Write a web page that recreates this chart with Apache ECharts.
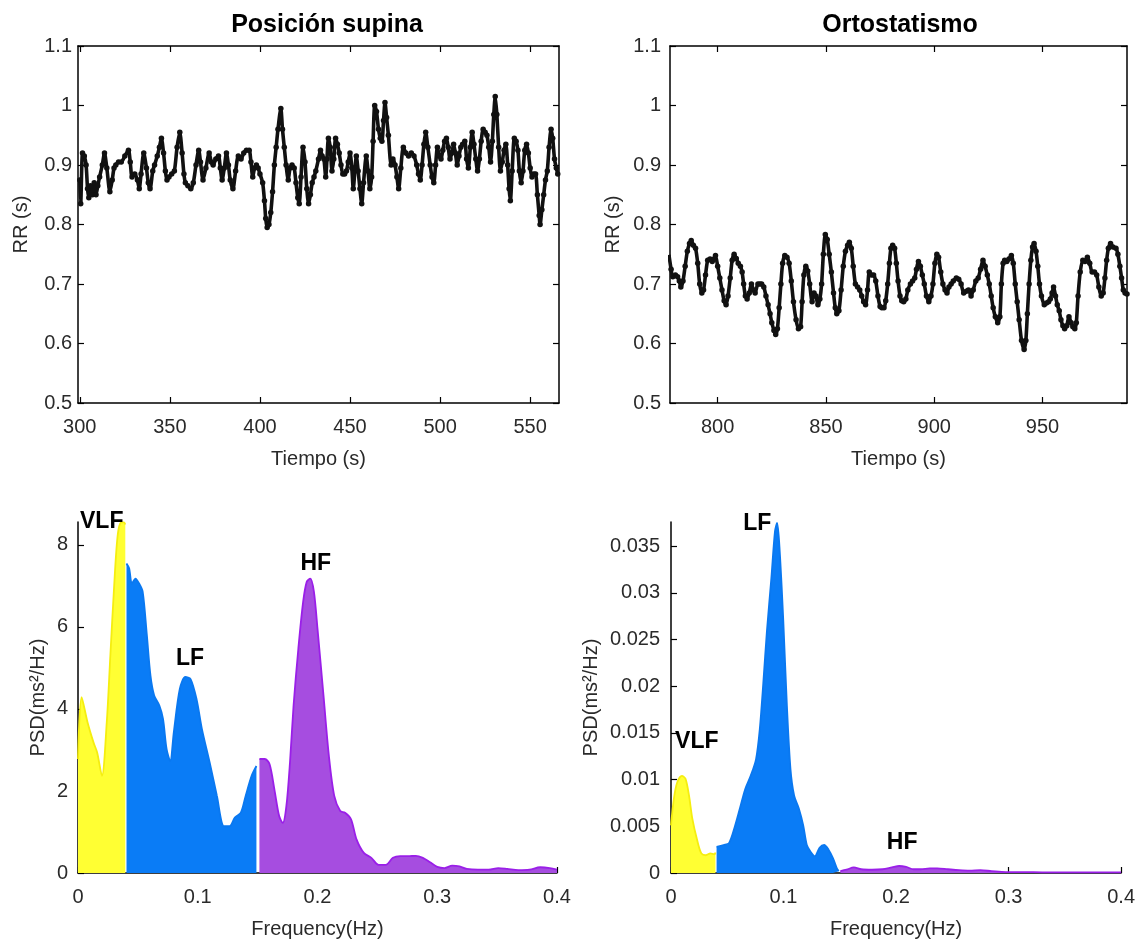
<!DOCTYPE html>
<html>
<head>
<meta charset="utf-8">
<script src="https://cdn.jsdelivr.net/npm/echarts@6/dist/echarts.min.js"></script>
<style>
  html, body { margin: 0; padding: 0; background: #ffffff; }
  #chart { width: 1138px; height: 940px; }
</style>
</head>
<body>
<div id="chart"></div>
<script>
// ---- RR tachogram, supine position (time in s, RR in s) ----
const supinaTime = [300.0,300.5,301.5,302.5,303.5,304.3,305.0,306,307,308,
  309,310,311,312.5,313.7,315,316.7,318,319,320,
  321.5,323,325,327,328,329,330.5,332,333,334,
  335.5,337,338,339,340.5,341.5,343,344.2,345.3,346.5,
  347.5,348.4,349.5,351,352.5,354,355.5,356.8,357.8,358.6,
  360,361.6,363,364.5,366,367,368.4,370,371.8,373,
  374,375.5,377,378,379,380.2,381.4,382.5,383.5,385,
  386.5,388,389.5,391,392.5,394,395,396,397,398,
  399,400,401.5,402.5,403.2,404,405,406,407,408,
  409,410,411.6,412.5,413.5,414.5,415.7,416.7,417.8,419,
  420,421,421.8,422.8,423.9,425,426,427,428,429,
  430,431,432.5,433.6,434.5,435.5,436.5,437.2,438,439,
  440,441,442,443,444,445,446,447,448,449,
  450,451,451.8,452.8,453.5,454.5,455.5,456.5,457.5,459,
  460,461,462,462.8,463.7,464.7,465.8,466.8,467.7,468.6,
  469.4,470.3,471.3,472.8,473.8,475,476,477,478.2,479.6,
  481,482.5,484,485.5,487,488,489,490,491,492,
  493.2,494.5,495.5,496.5,497.5,498.5,499.5,500.5,501.5,502.5,
  503.5,504.5,505.5,506.5,507.5,508.5,509.5,510.5,511.5,512.5,
  513.7,514.7,515.7,516.8,517.8,518.8,519.8,520.8,521.8,522.8,
  523.9,525,526,527,528,529,529.8,530.6,531.5,532.5,
  533.5,534.5,535.5,536.5,537.5,538.3,539,540,541.2,542.2,
  543.2,544,545,546,547,548,549,550,551,552,
  553,554,555,555.5,556.5,557.5,558.5,559.5,560.5,561.6,
  562.5,563.5,564.5,565.3];
const supinaRR = [0.875,0.835,0.92,0.915,0.90,0.86,0.845,0.865,0.85,0.87,
  0.85,0.865,0.88,0.90,0.92,0.895,0.855,0.875,0.895,0.90,
  0.905,0.905,0.915,0.925,0.905,0.88,0.885,0.875,0.86,0.885,
  0.92,0.895,0.87,0.86,0.89,0.90,0.915,0.93,0.945,0.92,
  0.89,0.875,0.88,0.885,0.89,0.93,0.955,0.92,0.885,0.87,
  0.865,0.86,0.87,0.90,0.925,0.905,0.875,0.895,0.92,0.905,
  0.90,0.91,0.915,0.895,0.875,0.895,0.92,0.90,0.875,0.86,
  0.89,0.915,0.91,0.92,0.925,0.925,0.905,0.88,0.895,0.90,
  0.895,0.885,0.87,0.84,0.81,0.795,0.80,0.82,0.855,0.90,
  0.93,0.96,0.995,0.96,0.93,0.90,0.875,0.895,0.90,0.895,
  0.87,0.845,0.835,0.88,0.93,0.905,0.86,0.835,0.85,0.87,
  0.88,0.89,0.91,0.925,0.915,0.91,0.88,0.91,0.945,0.93,
  0.89,0.91,0.945,0.935,0.92,0.90,0.885,0.885,0.89,0.905,
  0.92,0.895,0.86,0.895,0.915,0.89,0.86,0.835,0.87,0.915,
  0.89,0.86,0.88,0.94,1.0,0.99,0.96,0.945,0.94,0.975,
  1.005,0.98,0.95,0.90,0.91,0.90,0.88,0.86,0.895,0.93,
  0.92,0.915,0.92,0.915,0.90,0.885,0.875,0.90,0.935,0.955,
  0.93,0.90,0.88,0.87,0.90,0.93,0.915,0.91,0.925,0.94,
  0.945,0.93,0.91,0.92,0.935,0.92,0.90,0.915,0.93,0.935,
  0.94,0.91,0.895,0.93,0.955,0.935,0.91,0.89,0.91,0.94,
  0.96,0.955,0.95,0.93,0.905,0.94,0.985,1.015,0.985,0.93,
  0.89,0.905,0.925,0.935,0.90,0.86,0.84,0.89,0.945,0.94,
  0.925,0.89,0.87,0.89,0.925,0.935,0.92,0.895,0.88,0.885,
  0.885,0.85,0.815,0.80,0.825,0.85,0.875,0.89,0.93,0.96,
  0.945,0.91,0.895,0.885];

// ---- RR tachogram, standing (orthostatism) ----
const ortoTime = [777.5,778.5,779.3,780.5,781.5,782.3,783.0,784.0,785.0,786.0,
  787.0,787.8,788.8,789.8,790.8,791.7,792.7,793.5,794.4,795.4,
  796.5,797.5,798.3,799.0,800.0,801.0,802.0,803.0,803.9,804.8,
  805.8,806.7,807.6,808.6,809.5,810.5,811.3,812.0,812.8,813.6,
  814.6,815.6,816.5,817.3,818.6,819.5,820.3,821.3,822.3,823.3,
  824.2,825.0,826.0,826.8,827.6,828.4,829.2,830.0,831.0,832.0,
  833.0,834.0,835.0,836.2,837.3,838.3,839.0,839.8,840.7,841.6,
  842.5,843.6,844.5,845.4,846.3,847.2,848.0,848.8,849.7,850.6,
  851.5,852.5,853.5,854.3,855.0,856.0,857.0,858.0,859.0,860.0,
  860.8,861.7,862.6,863.6,864.6,865.6,866.5,867.4,868.3,869.2,
  870.0,871.0,872.0,873.0,874.0,875.0,875.8,876.8,877.6,878.5,
  879.3,880.0,880.8,881.7,882.5,883.3,884.2,885.0,885.9,886.9,
  887.8,889.0,890.0,891.0,891.8,892.7,893.6,894.5,895.4,896.4,
  897.5,898.5,899.4,900.3,901.2,902.0,903.0,904.0,905.0,905.9,
  906.8,907.8,908.8,910.2,911.3,912.4,913.6,914.8,915.8,917.0,
  918.0,919.2,920.3,921.4,922.5,923.5,924.5,925.4,926.3,927.2,
  928.2,929.3,930.3,931.0,931.8,932.5,933.5,934.5,935.6,936.5,
  937.4,938.3,939.2,940.3,941.5,942.3,943.0,943.8,944.6,945.4,
  946.1,947.0,947.8,948.6,949.5,950.8,951.8,952.8,953.6,954.4,
  955.1,956.0,956.8,957.7,958.5,959.4,960.2,961.2,962.2,963.2,
  964.0,964.9,965.6,966.4,967.4,968.6,969.6,970.7,971.8,972.9,
  974.0,975.0,976.0,977.1,978.0,978.8,979.6,980.4,981.4,982.5,
  983.9,984.8,985.7,986.5,987.3,988.1,989.0];
const ortoRR = [0.749,0.725,0.712,0.715,0.712,0.705,0.695,0.705,0.73,0.755,
  0.768,0.773,0.765,0.76,0.735,0.70,0.685,0.69,0.715,0.74,
  0.742,0.738,0.742,0.748,0.73,0.71,0.69,0.672,0.665,0.68,
  0.71,0.74,0.75,0.743,0.735,0.73,0.72,0.70,0.68,0.675,
  0.685,0.70,0.69,0.685,0.70,0.70,0.70,0.695,0.68,0.665,
  0.65,0.635,0.622,0.615,0.625,0.66,0.70,0.735,0.748,0.745,
  0.735,0.705,0.67,0.64,0.625,0.628,0.67,0.715,0.73,0.722,
  0.70,0.67,0.685,0.68,0.665,0.675,0.70,0.75,0.783,0.775,
  0.75,0.72,0.685,0.66,0.65,0.655,0.69,0.73,0.755,0.765,
  0.77,0.76,0.73,0.70,0.695,0.69,0.68,0.67,0.665,0.69,
  0.72,0.715,0.715,0.705,0.68,0.662,0.66,0.66,0.672,0.70,
  0.735,0.76,0.765,0.76,0.735,0.705,0.68,0.672,0.67,0.675,
  0.69,0.70,0.705,0.71,0.725,0.738,0.73,0.715,0.70,0.68,
  0.67,0.68,0.70,0.735,0.75,0.745,0.72,0.70,0.69,0.685,
  0.695,0.70,0.705,0.71,0.708,0.70,0.685,0.688,0.69,0.68,
  0.69,0.705,0.71,0.725,0.74,0.73,0.715,0.70,0.68,0.66,
  0.645,0.635,0.645,0.70,0.735,0.74,0.738,0.742,0.748,0.735,
  0.70,0.67,0.64,0.605,0.59,0.605,0.65,0.70,0.74,0.762,
  0.768,0.755,0.73,0.70,0.68,0.665,0.668,0.67,0.675,0.685,
  0.695,0.68,0.665,0.655,0.64,0.63,0.625,0.63,0.645,0.635,
  0.628,0.625,0.635,0.68,0.72,0.74,0.738,0.745,0.735,0.72,
  0.72,0.715,0.695,0.68,0.685,0.71,0.74,0.76,0.768,0.762,
  0.76,0.75,0.73,0.71,0.69,0.685,0.683];

// ---- Power spectral density, supine (Hz, ms^2/Hz) ----
const supVlfFreq = [0,0.003,0.008,0.013,0.016,0.02,0.024,0.027,0.03,0.033,0.036,0.0385,0.0395];
const supVlfPsd  = [2.78,4.29,3.67,3.18,2.94,2.37,3.67,5.3,6.9,8.2,8.55,8.55,8.5];
const supLfFreq  = [0.0405,0.0427,0.045,0.048,0.051,0.054,0.0575,0.0605,0.0636,0.068,
  0.071,0.074,0.077,0.080,0.085,0.0897,0.094,0.099,0.1035,0.11,
  0.116,0.122,0.1266,0.131,0.136,0.14,0.145,0.149];
const supLfPsd   = [7.55,7.43,7.06,7.18,7.06,6.86,5.8,4.82,4.33,4.08,
  3.76,3.02,2.73,3.43,4.49,4.78,4.73,4.24,3.51,2.69,
  1.88,1.14,1.14,1.35,1.47,1.88,2.37,2.61];
const supHfFreq  = [0.1515,0.156,0.160,0.164,0.168,0.171,0.174,0.177,0.180,0.184,
  0.188,0.191,0.194,0.197,0.2,0.205,0.2095,0.214,0.219,0.223,
  0.228,0.2326,0.2387,0.245,0.251,0.257,0.263,0.269,0.2756,0.282,
  0.288,0.294,0.300,0.306,0.3125,0.3186,0.3247,0.334,0.343,0.351,
  0.3585,0.3677,0.377,0.386,0.394,0.4];
const supHfPsd   = [2.78,2.78,2.65,2.04,1.39,1.22,1.63,2.69,4.08,5.47,
  6.61,7.1,7.18,6.86,5.96,4.33,2.86,1.88,1.51,1.47,
  1.31,0.82,0.49,0.37,0.2,0.2,0.37,0.41,0.41,0.42,
  0.37,0.26,0.15,0.12,0.18,0.16,0.1,0.08,0.08,0.12,
  0.1,0.07,0.08,0.14,0.12,0.08];

// ---- Power spectral density, standing ----
const ortoVlfFreq = [0,0.0026,0.0055,0.0097,0.0129,0.016,0.019,0.0235,0.027,0.031,0.035,0.0386,0.0395];
const ortoVlfPsd  = [0.0051,0.008,0.0097,0.0104,0.0101,0.0083,0.0058,0.0034,0.0021,0.0019,0.0021,0.002,0.0022];
const ortoLfFreq  = [0.0405,0.0467,0.0515,0.0563,0.0612,0.066,0.0708,0.0756,0.0789,0.082,
  0.0853,0.0892,0.0924,0.0943,0.0966,0.0998,0.103,0.1062,0.1094,0.1136,
  0.1175,0.1207,0.1239,0.1278,0.132,0.1361,0.14,0.1439,0.1474,0.149];
const ortoLfPsd   = [0.0028,0.003,0.0032,0.0048,0.0069,0.009,0.0104,0.0122,0.0154,0.0203,
  0.026,0.0316,0.0366,0.0375,0.0345,0.027,0.0179,0.0111,0.0083,0.0069,
  0.0051,0.003,0.0023,0.0018,0.0027,0.003,0.0025,0.0016,0.0005,0.0002];
const ortoHfFreq  = [0.1505,0.156,0.1625,0.169,0.1786,0.188,0.1963,0.2028,0.209,0.2156,
  0.222,0.230,0.2366,0.246,0.256,0.2655,0.275,0.285,0.2977,0.314,
  0.33,0.362,0.4];
const ortoHfPsd   = [0.0002,0.00035,0.0006,0.0004,0.00035,0.0004,0.0006,0.00075,0.00065,0.0004,
  0.0004,0.0005,0.0005,0.0004,0.0003,0.00025,0.0003,0.0002,0.0001,0.0001,
  0.00007,0.00007,0.00007];

// ---- Band names and where each name sits (data coordinates) ----
const bandNames = ['VLF', 'LF', 'HF'];
const supBandFreq = [0.0198, 0.0935, 0.1986];
const supBandPsd  = [8.58, 5.22, 7.54];
const ortoBandFreq = [0.0229, 0.0766, 0.2054];
const ortoBandPsd  = [0.0141, 0.0374, 0.00329];

// ---- Tick values ----
const supinaTicks = [300, 350, 400, 450, 500, 550];
const ortoTicks = [800, 850, 900, 950];
const rrTicks = [0.5, 0.6, 0.7, 0.8, 0.9, 1.0, 1.1];
const freqTicks = [0, 0.1, 0.2, 0.3, 0.4];
const supPsdTicks = [0, 2, 4, 6, 8];
const ortoPsdTicks = [0, 0.005, 0.01, 0.015, 0.02, 0.025, 0.03, 0.035];

const FONT = '"Liberation Sans", Arial, Helvetica, sans-serif';
const TEXT = '#2a2a2a';
const AXIS = '#000000';

const zip = (xs, ys) => xs.map((x, i) => [x, ys[i]]);

function axisBase(opts) {
  const ticks = opts.ticks || [];
  return {
    type: 'value',
    gridIndex: opts.grid,
    position: opts.position,
    min: opts.min,
    max: opts.max,
    name: opts.name || '',
    nameLocation: 'middle',
    nameGap: opts.nameGap || 0,
    nameTextStyle: { fontFamily: FONT, fontSize: 20, color: TEXT },
    axisLine: { show: opts.line !== false, onZero: false, lineStyle: { color: AXIS, width: 1.5 } },
    axisTick: { show: true, inside: true, length: 6, customValues: ticks,
                lineStyle: { color: AXIS, width: 1.2 } },
    axisLabel: { show: !!opts.labels, customValues: ticks, margin: opts.margin || 8,
                 fontFamily: FONT, fontSize: 20, color: TEXT },
    splitLine: { show: false }
  };
}

// Beat-to-beat trace: thick black line with a dot at every sample
function rrSeries(xIdx, yIdx, t, v) {
  return {
    type: 'line', xAxisIndex: xIdx, yAxisIndex: yIdx,
    data: zip(t, v),
    smooth: 0.25,
    symbol: 'circle', symbolSize: 5.5, showSymbol: true, showAllSymbol: true,
    lineStyle: { color: '#111111', width: 3.6 },
    itemStyle: { color: '#111111' },
    silent: true, z: 3
  };
}

// One frequency band drawn as a filled area
function bandSeries(xIdx, yIdx, f, p, fill, edge) {
  return {
    type: 'line', xAxisIndex: xIdx, yAxisIndex: yIdx,
    data: zip(f, p),
    smooth: 0.3,
    showSymbol: false,
    lineStyle: { color: edge, width: 1.8 },
    areaStyle: { color: fill, opacity: 1 },
    silent: true, z: 3
  };
}

// Band names written over the spectrum
function bandLabels(xIdx, yIdx, fs, ps) {
  return {
    type: 'scatter', xAxisIndex: xIdx, yAxisIndex: yIdx,
    clip: false, silent: true, symbolSize: 0, z: 10,
    itemStyle: { opacity: 1 },
    data: bandNames.map((n, i) => ({ name: n, value: [fs[i], ps[i]] })),
    label: { show: true, position: 'inside', formatter: '{b}',
             fontFamily: FONT, fontSize: 23, fontWeight: 'bold', color: '#000000',
             opacity: 1, textBorderWidth: 0, textShadowBlur: 0 }
  };
}

const YELLOW = '#ffff33', YELLOW_EDGE = '#f5ee10';
const BLUE = '#0a7cf6', BLUE_EDGE = '#0a78f0';
const PURPLE = '#a64de0', PURPLE_EDGE = '#9a1fe8';

const option = {
  animation: false,
  backgroundColor: '#ffffff',
  title: [
    { text: 'Posición supina', left: 322, top: 8, textAlign: 'center',
      textStyle: { fontFamily: FONT, fontSize: 25, fontWeight: 'bold', color: '#000' } },
    { text: 'Ortostatismo', left: 895, top: 8, textAlign: 'center',
      textStyle: { fontFamily: FONT, fontSize: 25, fontWeight: 'bold', color: '#000' } }
  ],
  grid: [
    { left: 78, top: 46, width: 481, height: 357 },
    { left: 670, top: 46, width: 457, height: 357 },
    { left: 78, top: 522, width: 479, height: 351 },
    { left: 671, top: 522, width: 455, height: 353 }
  ],
  xAxis: [
    axisBase({ grid: 0, position: 'bottom', min: 299, max: 566, ticks: supinaTicks, labels: true,
               margin: 14, name: 'Tiempo (s)', nameGap: 46 }),
    axisBase({ grid: 0, position: 'top', min: 299, max: 566, ticks: supinaTicks }),
    axisBase({ grid: 1, position: 'bottom', min: 778, max: 989, ticks: ortoTicks, labels: true,
               margin: 14, name: 'Tiempo (s)', nameGap: 46 }),
    axisBase({ grid: 1, position: 'top', min: 778, max: 989, ticks: ortoTicks }),
    axisBase({ grid: 2, position: 'bottom', min: 0, max: 0.4, ticks: freqTicks, labels: true,
               margin: 14, name: 'Frequency(Hz)', nameGap: 46 }),
    axisBase({ grid: 3, position: 'bottom', min: 0, max: 0.4, ticks: freqTicks, labels: true,
               margin: 14, name: 'Frequency(Hz)', nameGap: 46 })
  ],
  yAxis: [
    axisBase({ grid: 0, position: 'left', min: 0.5, max: 1.1, ticks: rrTicks, labels: true,
               margin: 6, name: 'RR (s)', nameGap: 47 }),
    axisBase({ grid: 0, position: 'right', min: 0.5, max: 1.1, ticks: rrTicks }),
    axisBase({ grid: 1, position: 'left', min: 0.5, max: 1.1, ticks: rrTicks, labels: true,
               margin: 9, name: 'RR (s)', nameGap: 47 }),
    axisBase({ grid: 1, position: 'right', min: 0.5, max: 1.1, ticks: rrTicks }),
    axisBase({ grid: 2, position: 'left', min: 0, max: 8.56, ticks: supPsdTicks, labels: true,
               margin: 10, name: 'PSD(ms²/Hz)', nameGap: 30 }),
    axisBase({ grid: 3, position: 'left', min: 0, max: 0.0376, ticks: ortoPsdTicks, labels: true,
               margin: 11, name: 'PSD(ms²/Hz)', nameGap: 70 })
  ],
  series: [
    rrSeries(0, 0, supinaTime, supinaRR),
    rrSeries(2, 2, ortoTime, ortoRR),
    bandSeries(4, 4, supVlfFreq, supVlfPsd, YELLOW, YELLOW_EDGE),
    bandSeries(4, 4, supLfFreq, supLfPsd, BLUE, BLUE_EDGE),
    bandSeries(4, 4, supHfFreq, supHfPsd, PURPLE, PURPLE_EDGE),
    bandSeries(5, 5, ortoVlfFreq, ortoVlfPsd, YELLOW, YELLOW_EDGE),
    bandSeries(5, 5, ortoLfFreq, ortoLfPsd, BLUE, BLUE_EDGE),
    bandSeries(5, 5, ortoHfFreq, ortoHfPsd, PURPLE, PURPLE_EDGE),
    bandLabels(4, 4, supBandFreq, supBandPsd),
    bandLabels(5, 5, ortoBandFreq, ortoBandPsd)
  ]
};

const chart = echarts.init(document.getElementById('chart'), null, { renderer: 'canvas' });
chart.setOption(option);
</script>
</body>
</html>
